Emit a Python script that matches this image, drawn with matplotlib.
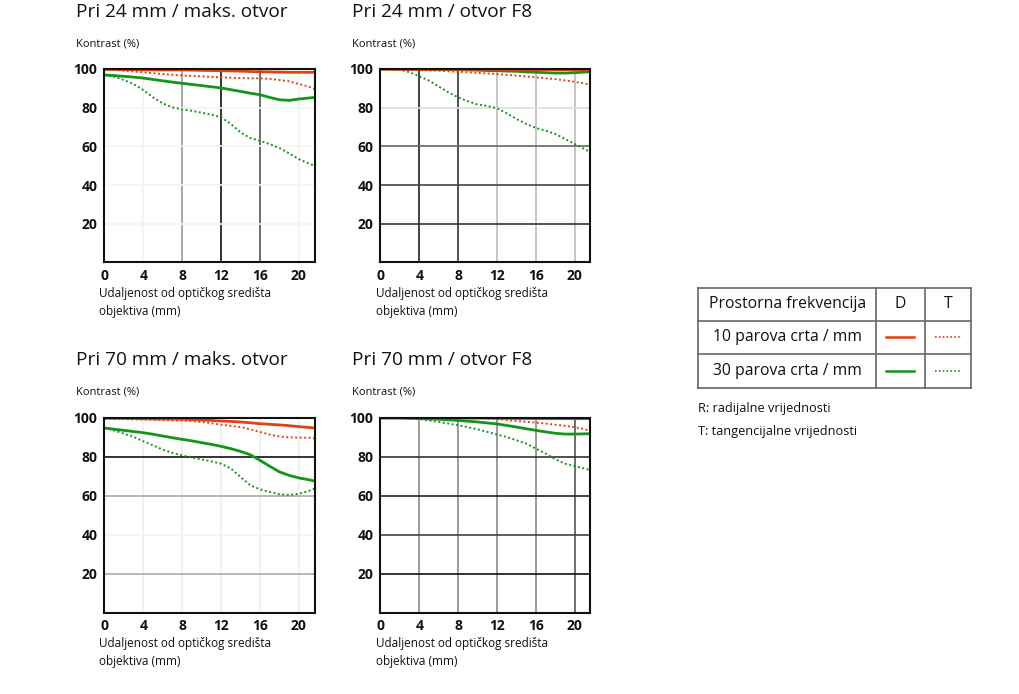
import numpy as np
import matplotlib
matplotlib.use('Agg')
import matplotlib.pyplot as plt
from matplotlib.lines import Line2D

plt.rcParams['font.family'] = ['Open Sans', 'DejaVu Sans']

# -----------------------------------------------------------------------
# data (distance from centre in mm, contrast in %)
x_mm = [0, 1, 2, 3, 4, 5, 6, 7, 8, 9, 10, 11, 12, 13, 14, 15, 16, 17, 18,
        19, 20, 21, 21.6]

titles = ['Pri 24 mm / maks. otvor', 'Pri 24 mm / otvor F8',
          'Pri 70 mm / maks. otvor', 'Pri 70 mm / otvor F8']

# 10 line pairs / mm, radial (solid)
r10_solid = [
    [99.8, 99.8, 99.7, 99.7, 99.6, 99.6, 99.5, 99.5, 99.5, 99.4, 99.3, 99.2,
     99.1, 99.0, 98.9, 98.7, 98.6, 98.5, 98.4, 98.3, 98.3, 98.3, 98.3],
    [99.9, 99.9, 99.9, 99.9, 99.9, 99.9, 99.9, 99.8, 99.8, 99.8, 99.8, 99.8,
     99.8, 99.7, 99.7, 99.7, 99.7, 99.7, 99.6, 99.6, 99.6, 99.6, 99.6],
    [99.7, 99.6, 99.6, 99.5, 99.4, 99.3, 99.2, 99.2, 99.1, 98.9, 98.7, 98.5,
     98.2, 98.0, 97.7, 97.3, 96.8, 96.5, 96.2, 95.8, 95.3, 94.9, 94.6],
    [100, 100, 100, 99.9, 99.9, 99.9, 99.8, 99.8, 99.8, 99.7, 99.7, 99.7,
     99.6, 99.6, 99.5, 99.5, 99.5, 99.4, 99.4, 99.4, 99.4, 99.4, 99.4],
]
# 10 line pairs / mm, tangential (dotted)
t10_dotted = [
    [100, 99.6, 99.1, 98.7, 98.3, 97.8, 97.4, 97.0, 96.7, 96.4, 96.2, 95.9,
     95.7, 95.5, 95.3, 95.2, 95.2, 94.9, 94.3, 93.6, 92.2, 90.9, 89.7],
    [100, 99.9, 99.8, 99.6, 99.5, 99.3, 99.1, 98.8, 98.6, 98.3, 98.0, 97.7,
     97.4, 97.0, 96.6, 96.1, 95.7, 95.2, 94.8, 94.1, 93.4, 92.5, 91.9],
    [99.4, 99.3, 99.2, 99.0, 98.9, 98.8, 98.7, 98.5, 98.4, 98.1, 97.7, 97.1,
     96.3, 95.7, 95.1, 93.9, 92.6, 91.2, 90.3, 89.8, 89.7, 89.6, 89.5],
    [100, 100, 100, 100, 100, 99.9, 99.9, 99.8, 99.8, 99.7, 99.6, 99.4,
     99.1, 98.7, 98.2, 97.8, 97.4, 96.9, 96.3, 95.7, 95.0, 94.0, 92.9],
]
# 30 line pairs / mm, radial (solid)
r30_solid = [
    [96.9, 96.6, 96.2, 95.8, 95.3, 94.6, 93.9, 93.2, 92.6, 92.0, 91.4, 90.8,
     90.2, 89.3, 88.4, 87.5, 86.7, 85.3, 84.1, 83.8, 84.5, 85.0, 85.3],
    [100, 100, 100, 99.9, 99.9, 99.8, 99.8, 99.7, 99.7, 99.5, 99.4, 99.2,
     99.1, 98.9, 98.8, 98.5, 98.3, 98.1, 97.9, 97.9, 98.1, 98.4, 98.6],
    [94.6, 94.0, 93.4, 92.8, 92.2, 91.4, 90.5, 89.6, 88.8, 88.0, 87.1, 86.2,
     85.2, 84.0, 82.6, 80.9, 78.0, 75.0, 72.1, 70.3, 69.0, 68.1, 67.4],
    [99.7, 99.7, 99.7, 99.6, 99.5, 99.3, 99.1, 98.8, 98.5, 98.1, 97.7, 97.2,
     96.7, 95.9, 95.1, 94.2, 93.4, 92.6, 91.9, 91.5, 91.5, 91.6, 91.7],
]
# 30 line pairs / mm, tangential (dotted)
t30_dotted = [
    [96.9, 96.0, 94.3, 92.2, 89.1, 85.3, 82.2, 80.2, 79.1, 78.4, 77.4, 76.4,
     75.0, 71.6, 67.2, 64.3, 62.9, 61.2, 59.1, 56.4, 53.4, 51.2, 50.0],
    [100, 100, 99.7, 98.3, 96.2, 94.0, 90.9, 87.9, 85.3, 83.3, 81.6, 80.9,
     79.7, 77.1, 74.1, 71.6, 69.5, 68.1, 66.4, 63.8, 61.2, 58.6, 56.9],
    [94.6, 93.4, 91.7, 90.0, 87.8, 85.7, 83.5, 81.8, 80.6, 79.4, 78.5, 77.5,
     76.3, 73.8, 69.5, 65.2, 63.2, 61.8, 60.6, 60.3, 60.9, 62.3, 63.5],
    [99.7, 99.7, 99.7, 99.5, 99.1, 98.5, 97.7, 96.9, 96.0, 95.0, 93.9, 92.6,
     91.2, 90.0, 88.3, 86.6, 84.0, 81.5, 78.5, 76.3, 75.0, 73.8, 72.9],
]

x_ticks = [0, 4, 8, 12, 16, 20]
y_ticks = [20, 40, 60, 80, 100]

# grid colours differ from chart to chart in the original
v_grid = [
    {4: '#f2f2f2', 8: '#9a9a9a', 12: '#111111', 16: '#555555', 20: '#f2f2f2'},
    {4: '#222222', 8: '#333333', 12: '#bbbbbb', 16: '#bbbbbb', 20: '#bbbbbb'},
    {4: '#eeeeee', 8: '#eeeeee', 12: '#eeeeee', 16: '#eeeeee', 20: '#eeeeee'},
    {4: '#8a8a8a', 8: '#8a8a8a', 12: '#8a8a8a', 16: '#8a8a8a', 20: '#555555'},
]
h_grid = [
    {20: '#f4f4f4', 40: '#f4f4f4', 60: '#f4f4f4', 80: '#f4f4f4'},
    {20: '#333333', 40: '#444444', 60: '#666666', 80: '#dddddd'},
    {20: '#aaaaaa', 40: '#f2f2f2', 60: '#aaaaaa', 80: '#111111'},
    {20: '#111111', 40: '#444444', 60: '#222222', 80: '#333333'},
]

legend_rows = ['10 parova crta / mm', '30 parova crta / mm']

RED = '#e4410f'
GREEN = '#13951a'
DOT = (0, (1, 1.3))

W, H = 1020, 694
# axes boxes in pixels: left, top, right, bottom
boxes = [(104.5, 69, 314.5, 262.5), (380.5, 69, 590.5, 262.5),
         (104.5, 417.5, 314.5, 612.5), (380.5, 417.5, 590.5, 612.5)]
title_y = [12, 12, 360, 360]


def px_axes(fig, box):
    l, t, r, b = box
    return fig.add_axes([l / W, 1 - b / H, (r - l) / W, (b - t) / H])


fig = plt.figure(figsize=(W / 100, H / 100), dpi=100)

for i in range(4):
    ax = px_axes(fig, boxes[i])
    ax.set_xlim(0, 21.6)
    ax.set_ylim(0, 100)
    for xv, c in v_grid[i].items():
        ax.axvline(xv, color=c, lw=1.2, zorder=1)
    for yv, c in h_grid[i].items():
        ax.axhline(yv, color=c, lw=1.2, zorder=1)

    ax.plot(x_mm, t30_dotted[i], color=GREEN, lw=1.4, ls=DOT, zorder=3)
    ax.plot(x_mm, r30_solid[i], color=GREEN, lw=2.0, zorder=3,
            solid_joinstyle='round')
    ax.plot(x_mm, t10_dotted[i], color=RED, lw=1.4, ls=DOT, zorder=4)
    ax.plot(x_mm, r10_solid[i], color=RED, lw=2.0, zorder=4,
            solid_joinstyle='round')

    ax.set_xticks(x_ticks)
    ax.set_yticks(y_ticks)
    ax.tick_params(length=0, pad=5, labelsize=10, labelcolor='#111111')
    for lab in ax.get_xticklabels() + ax.get_yticklabels():
        lab.set_fontweight('bold')
    for sp in ax.spines.values():
        sp.set_linewidth(1.5)
        sp.set_color('#111111')
        sp.set_zorder(5)

    l, t, r, b = boxes[i]
    fig.text((l - 28) / W, 1 - title_y[i] / H, titles[i],
             fontsize=13.7, va='center', ha='left', color='#111111')
    fig.text((l - 28) / W, 1 - (t - 25) / H, 'Kontrast (%)',
             fontsize=8, va='center', ha='left', color='#111111')
    fig.text((l - 5) / W, 1 - (b + 31) / H, 'Udaljenost od optičkog središta',
             fontsize=8.5, va='center', ha='left', color='#111111')
    fig.text((l - 5) / W, 1 - (b + 49) / H, 'objektiva (mm)',
             fontsize=8.5, va='center', ha='left', color='#111111')

# -----------------------------------------------------------------------
# legend table
tab = fig.add_axes([0, 0, 1, 1])
tab.set_xlim(0, W)
tab.set_ylim(H, 0)
tab.axis('off')
xl, xc1, xc2, xr = 698.5, 876, 925, 971.5
yt, y1, y2, yb = 287.5, 320.5, 354, 387.5
lc = '#666666'
for yy in (yt, y1, y2, yb):
    tab.add_line(Line2D([xl, xr], [yy, yy], color=lc, lw=1.2))
for xx in (xl, xc1, xc2, xr):
    tab.add_line(Line2D([xx, xx], [yt, yb], color=lc, lw=1.2))

tab.text((xl + xc1) / 2, (yt + y1) / 2, 'Prostorna frekvencija', fontsize=11.3,
         ha='center', va='center', color='#111111')
tab.text((xc1 + xc2) / 2, (yt + y1) / 2, 'D', fontsize=11.3,
         ha='center', va='center', color='#111111')
tab.text((xc2 + xr) / 2, (yt + y1) / 2, 'T', fontsize=11.3,
         ha='center', va='center', color='#111111')
for k, (lab, col) in enumerate(zip(legend_rows, [RED, GREEN])):
    yc = [(y1 + y2) / 2, (y2 + yb) / 2][k]
    tab.text((xl + xc1) / 2, yc, lab, fontsize=11.3,
             ha='center', va='center', color='#111111')
    tab.add_line(Line2D([886, 914], [yc, yc], color=col, lw=1.8))
    tab.add_line(Line2D([935, 962], [yc, yc], color=col, lw=1.2, ls=DOT))

tab.text(xl, 408, 'R: radijalne vrijednosti', fontsize=9.2, ha='left',
         va='center', color='#111111')
tab.text(xl, 431, 'T: tangencijalne vrijednosti', fontsize=9.2, ha='left',
         va='center', color='#111111')

fig.savefig('out.png', dpi=100, facecolor='white')
